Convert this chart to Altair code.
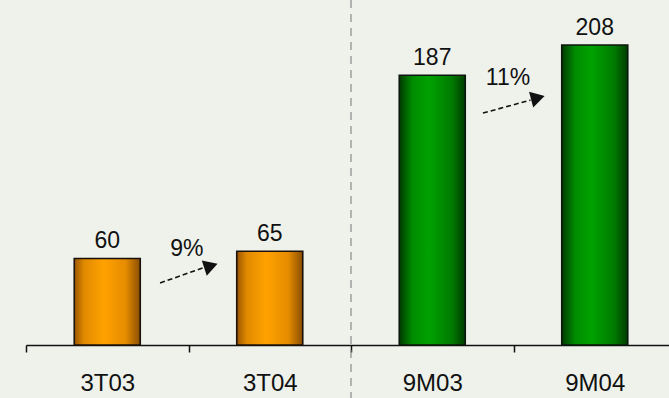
import altair as alt
import pandas as pd

# Period labels, volumes and series group
periods = ["3T03", "3T04", "9M03", "9M04"]
volumes = [60, 65, 187, 208]
groups = ["quarter", "quarter", "nine_months", "nine_months"]

# Growth annotations (in band-index units along x, value units along y)
growth_labels = ["9%", "11%"]
growth_label_x = [0.99, 2.966]
growth_label_y = [66.6, 185.1]
arrow_x0 = [0.825, 2.812]
arrow_y0 = [43.0, 160.8]
arrow_x1 = [1.095, 3.105]
arrow_y1 = [53.7, 169.8]
head_x = [1.138, 3.150]
head_y = [54.8, 171.4]
head_angle = [342, 345]

# Boundary between quarterly and nine-month blocks
separator_x = [2]

FONT = "Liberation Sans"
Y_MAX = 239.2
X_RANGE = [0, 650]

bars_df = pd.DataFrame({"period": periods, "volume": volumes, "group": groups})
growth_df = pd.DataFrame({
    "label": growth_labels, "lx": growth_label_x, "ly": growth_label_y,
    "x0": arrow_x0, "y0": arrow_y0, "x1": arrow_x1, "y1": arrow_y1,
    "hx": head_x, "hy": head_y, "angle": head_angle,
})
sep_df = pd.DataFrame({"sx": separator_x, "top": [Y_MAX], "bottom": [-37.0]})

y_scale = alt.Scale(domain=[0, Y_MAX], nice=False, zero=True)

orange = alt.Gradient(
    gradient="linear", x1=0, x2=1, y1=0, y2=0,
    stops=[
        alt.GradientStop(color="#9a5600", offset=0),
        alt.GradientStop(color="#e08a00", offset=0.15),
        alt.GradientStop(color="#ffa200", offset=0.45),
        alt.GradientStop(color="#e58c00", offset=0.78),
        alt.GradientStop(color="#8a4e00", offset=1),
    ],
)
green = alt.Gradient(
    gradient="linear", x1=0, x2=1, y1=0, y2=0,
    stops=[
        alt.GradientStop(color="#003a00", offset=0),
        alt.GradientStop(color="#008c00", offset=0.2),
        alt.GradientStop(color="#00a200", offset=0.45),
        alt.GradientStop(color="#007a00", offset=0.8),
        alt.GradientStop(color="#003c00", offset=1),
    ],
)

x_band = alt.X(
    "period:N", sort=periods, title=None,
    scale=alt.Scale(range=X_RANGE, paddingInner=0, paddingOuter=0),
    axis=alt.Axis(
        tickBand="extent", labelAngle=0, labelFont=FONT, labelFontSize=24,
        labelColor="#111111", labelPadding=19, tickSize=7, tickColor="#111111",
        tickWidth=1.5, domainColor="#111111", domainWidth=1.5, grid=False,
    ),
)
y_enc = alt.Y("volume:Q", scale=y_scale, axis=None)

base = alt.Chart(bars_df)
bars_q = base.transform_filter(alt.datum.group == "quarter").mark_bar(
    size=66, fill=orange, stroke="#1a1208", strokeWidth=1.6
).encode(x=x_band, y=y_enc)
bars_m = base.transform_filter(alt.datum.group == "nine_months").mark_bar(
    size=66, fill=green, stroke="#0c160c", strokeWidth=1.6
).encode(x=x_band, y=y_enc)
values = base.mark_text(
    font=FONT, fontSize=23, color="#111111", baseline="alphabetic", dy=-10
).encode(x=x_band, y=y_enc, text="volume:Q")

band_layer = alt.layer(bars_q, bars_m, values)

x_q = alt.Scale(domain=[0, 4], range=X_RANGE, nice=False, zero=False)

separator = alt.Chart(sep_df).mark_rule(
    color="#8a8a8a", strokeWidth=1.2, strokeDash=[8, 6]
).encode(
    x=alt.X("sx:Q", scale=x_q, axis=None),
    y=alt.Y("top:Q", scale=y_scale, axis=None),
    y2="bottom:Q",
)
g = alt.Chart(growth_df)
arrow_lines = g.mark_rule(color="#111111", strokeWidth=1.6, strokeDash=[5, 3]).encode(
    x=alt.X("x0:Q", scale=x_q, axis=None),
    y=alt.Y("y0:Q", scale=y_scale, axis=None),
    x2="x1:Q", y2="y1:Q",
)
arrow_heads = g.mark_point(
    shape="triangle-right", filled=True, color="#111111", size=260, opacity=1
).encode(
    x=alt.X("hx:Q", scale=x_q, axis=None),
    y=alt.Y("hy:Q", scale=y_scale, axis=None),
    angle=alt.Angle("angle:Q", scale=None),
)
growth_text = g.mark_text(font=FONT, fontSize=23, color="#111111").encode(
    x=alt.X("lx:Q", scale=x_q, axis=None),
    y=alt.Y("ly:Q", scale=y_scale, axis=None),
    text="label:N",
)

annot_layer = alt.layer(separator, arrow_lines, arrow_heads, growth_text)

chart = (
    alt.layer(band_layer, annot_layer)
    .resolve_scale(x="independent")
    .properties(
        width=643, height=345,
        autosize=alt.AutoSizeParams(type="none"),
        padding={"left": 26, "top": 0, "right": 0, "bottom": 53},
        background="#eef2eb",
    )
    .configure_view(stroke=None)
)

chart.save("out.html", embed_options={"renderer": "svg", "actions": False})
